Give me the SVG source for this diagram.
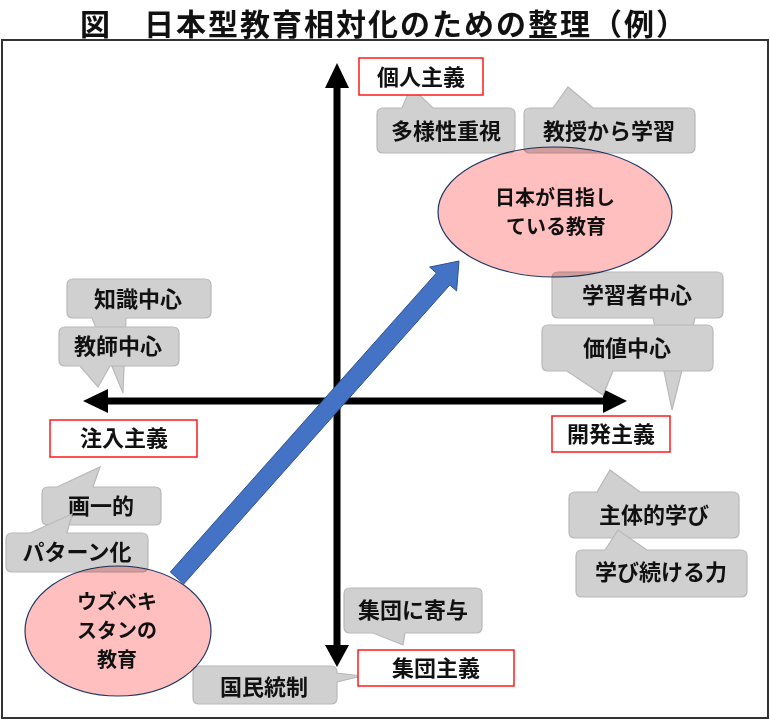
<svg xmlns="http://www.w3.org/2000/svg" width="770" height="720" viewBox="0 0 770 720">
<style>
text{font-family:"Noto Sans CJK JP","Noto Sans CJK SC",sans-serif;font-weight:700;fill:#111;text-anchor:middle;font-size:22px}
.title{font-size:30px;text-anchor:start;letter-spacing:2px}
.el{font-size:20px}
.call{fill:#d0d0d0;stroke:#b8b8b8;stroke-width:1.2}
.red{fill:#fff;stroke:#ff1a1a;stroke-width:1.5}
.ell{fill:#ffbfbf;stroke:#1f3864;stroke-width:1.2;mix-blend-mode:multiply}
.ax{fill:#000}
</style>
<rect x="0" y="0" width="770" height="720" fill="#fff"/>
<text class="title" x="80" y="35">図　日本型教育相対化のための整理（例）</text>
<rect x="2" y="40" width="766" height="678" fill="#fff" stroke="#333" stroke-width="2"/>

<g id="connectors">
  <rect class="ax" x="333.5" y="86" width="7" height="561"/>
  <polygon class="ax" points="337,63 349,88 325,88"/>
  <polygon class="ax" points="337,667 349,645 325,645"/>
  <rect class="ax" x="106" y="397.5" width="499" height="7"/>
  <polygon class="ax" points="83,401 108,389 108,413"/>
  <polygon class="ax" points="627,401 603,389 603,413"/>
</g>

<g id="n-tayousei"><path class="call" d="M383,108 L402,108 L411,87 L433,108 L509,108 Q515,108 515,114 L515,147 Q515,153 509,153 L383,153 Q377,153 377,147 L377,114 Q377,108 383,108 Z"/><text x="446" y="139">多様性重視</text></g>
<g id="n-kyouju"><path class="call" d="M530,108 L553,108 L568,87 L593,108 L689,108 Q695,108 695,114 L695,147 Q695,153 689,153 L530,153 Q524,153 524,147 L524,114 Q524,108 530,108 Z"/><text x="609" y="139">教授から学習</text></g>
<g id="n-chishiki"><path class="call" d="M73,279 L205,279 Q211,279 211,285 L211,312 Q211,318 205,318 L126,318 L123,393 L92,318 L73,318 Q67,318 67,312 L67,285 Q67,279 73,279 Z"/><text x="138" y="307">知識中心</text></g>
<g id="n-kyoushi"><path class="call" d="M65,327 L173,327 Q179,327 179,333 L179,360 Q179,366 173,366 L110,366 L98,387 L80,366 L65,366 Q59,366 59,360 L59,333 Q59,327 65,327 Z"/><text x="118" y="354">教師中心</text></g>
<g id="n-kakuitsu"><path class="call" d="M48,487 L57,487 L100,467 L93,487 L155,487 Q161,487 161,493 L161,519 Q161,525 155,525 L48,525 Q42,525 42,519 L42,493 Q42,487 48,487 Z"/><text x="101" y="514">画一的</text></g>
<g id="n-pattern"><path class="call" d="M12,533 L30,533 L72,514 L67,533 L142,533 Q148,533 148,539 L148,566 Q148,572 142,572 L12,572 Q6,572 6,566 L6,539 Q6,533 12,533 Z"/><text x="77" y="560">パターン化</text></g>
<g id="n-shuudan-kiyo"><path class="call" d="M350,588 L476,588 Q482,588 482,594 L482,627 Q482,633 476,633 L405,633 L403,645 L373,633 L350,633 Q344,633 344,627 L344,594 Q344,588 350,588 Z"/><text x="413" y="618">集団に寄与</text></g>
<g id="n-kokumin"><path class="call" d="M199,666 L331,666 Q337,666 337,672 L337,673 L362,676 L337,682 L337,698 Q337,704 331,704 L199,704 Q193,704 193,698 L193,672 Q193,666 199,666 Z"/><text x="264" y="695">国民統制</text></g>
<g id="n-gakushuusha"><path class="call" d="M558,272 L717,272 Q723,272 723,278 L723,312 Q723,318 717,318 L695,318 L672,410 L653,318 L558,318 Q552,318 552,312 L552,278 Q552,272 558,272 Z"/><text x="637" y="303">学習者中心</text></g>
<g id="n-kachi"><path class="call" d="M548,325 L707,325 Q713,325 713,331 L713,365 Q713,371 707,371 L613,371 L603,395 L567,371 L548,371 Q542,371 542,365 L542,331 Q542,325 548,325 Z"/><text x="627" y="356">価値中心</text></g>
<g id="n-shutai"><path class="call" d="M575,492 L597,492 L610,470 L640,492 L733,492 Q739,492 739,498 L739,532 Q739,538 733,538 L575,538 Q569,538 569,532 L569,498 Q569,492 575,492 Z"/><text x="654" y="523">主体的学び</text></g>
<g id="n-manabi"><path class="call" d="M582,550 L605,550 L618,530 L647,550 L741,550 Q747,550 747,556 L747,591 Q747,597 741,597 L582,597 Q576,597 576,591 L576,556 Q576,550 582,550 Z"/><text x="661" y="580">学び続ける力</text></g>

<g id="n-kojin"><rect class="red" x="359" y="58" width="124" height="37"/><text x="421" y="85">個人主義</text></g>
<g id="n-chuunyuu"><rect class="red" x="50" y="420" width="147" height="37"/><text x="124" y="446">注入主義</text></g>
<g id="n-kaihatsu"><rect class="red" x="552" y="416" width="118" height="36"/><text x="611" y="442">開発主義</text></g>
<g id="n-shuudan"><rect class="red" x="358" y="650" width="156" height="36"/><text x="436" y="676">集団主義</text></g>

<g id="n-japan"><ellipse class="ell" cx="555" cy="212" rx="117" ry="65"/><text class="el" x="555" y="205">日本が目指し</text><text class="el" x="556" y="234">ている教育</text></g>
<g id="n-uzbek"><ellipse class="ell" cx="118" cy="631" rx="93" ry="65"/><text class="el" x="117" y="609">ウズベキ</text><text class="el" x="117" y="638">スタンの</text><text class="el" x="117" y="667">教育</text></g>

<g id="arrow-main">
  <polygon points="170.3,572 436.4,273 429.6,267.1 459,261 456.6,290.9 449.8,285 183.7,584" fill="#4472c4" stroke="#2f528f" stroke-width="1"/>
</g>
</svg>
